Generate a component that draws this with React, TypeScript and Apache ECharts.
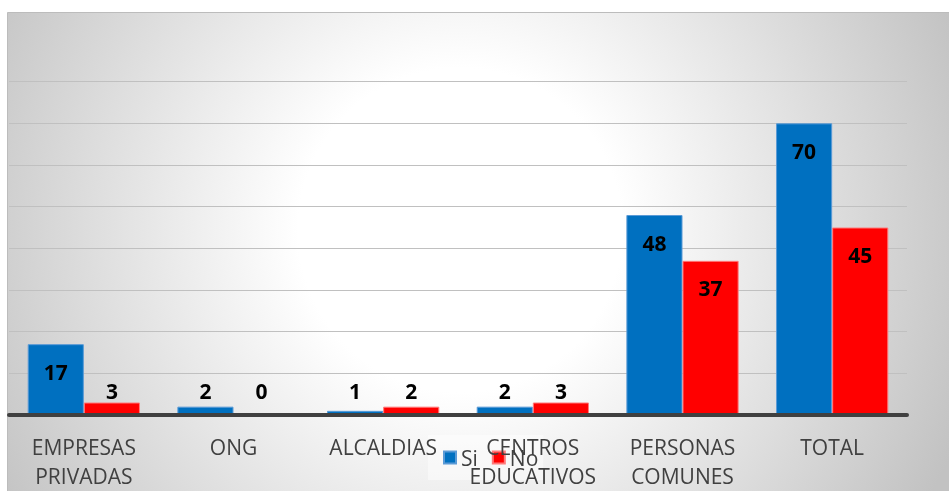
import React, { useEffect, useRef } from "react";
import * as echarts from "echarts";

const categories = [
  "EMPRESAS\nPRIVADAS",
  "ONG",
  "ALCALDIAS",
  "CENTROS\nEDUCATIVOS",
  "PERSONAS\nCOMUNES",
  "TOTAL",
];
const siValues = [17, 2, 1, 2, 48, 70];
const noValues = [3, 0, 2, 3, 37, 45];
const seriesNames = ["Si", "No"];

const FONT = "'Open Sans', 'Noto Sans', sans-serif";

function toData(values: number[]) {
  return values.map((v) => ({
    value: v,
    label:
      v < 8
        ? { position: "insideBottom", distance: 14 }
        : { position: "insideTop", distance: 17 },
  }));
}

export default function App() {
  const ref = useRef<HTMLDivElement>(null);
  useEffect(() => {
    if (!ref.current) return;
    const chart = echarts.init(ref.current, undefined, { renderer: "svg" });
    const labelCommon = {
      show: true,
      color: "#000000",
      fontFamily: FONT,
      fontWeight: "bold",
      fontSize: 21,
    };
    chart.setOption({
      animation: false,
      graphic: [
        {
          type: "rect",
          z: -100,
          shape: { x: 7.5, y: 12.5, width: 950, height: 480 },
          style: {
            fill: new echarts.graphic.RadialGradient(
              460,
              230,
              540,
              [
                { offset: 0, color: "#ffffff" },
                { offset: 0.3, color: "#ffffff" },
                { offset: 1, color: "#c2c2c2" },
              ],
              true
            ),
            stroke: "#bcbcbc",
            lineWidth: 1,
          },
        },
      ],
      grid: { left: 9, right: 42, top: 40, bottom: 76, containLabel: false },
      legend: {
        data: seriesNames,
        left: 428,
        top: 435,
        padding: [12, 5, 12, 15],
        itemWidth: 12,
        itemHeight: 12,
        itemGap: 14,
        icon: "rect",
        backgroundColor: "rgba(255,255,255,0.45)",
        textStyle: {
          fontFamily: FONT,
          fontSize: 21,
          lineHeight: 21,
          color: "#404040",
        },
      },
      xAxis: {
        type: "category",
        data: categories,
        z: 5,
        axisLine: { lineStyle: { color: "#404040", width: 4 } },
        axisTick: { show: false },
        axisLabel: {
          interval: 0,
          margin: 17,
          fontFamily: FONT,
          fontSize: 21,
          lineHeight: 29,
          color: "#404040",
        },
      },
      yAxis: {
        type: "value",
        min: 0,
        max: 90,
        interval: 10,
        axisLabel: { show: false },
        axisLine: { show: false },
        axisTick: { show: false },
        splitLine: {
          show: true,
          showMinLine: false,
          showMaxLine: false,
          lineStyle: { color: "#c0c0c0", width: 1 },
        },
      },
      series: [
        {
          name: seriesNames[0],
          type: "bar",
          data: toData(siValues),
          barGap: "0%",
          barCategoryGap: "25%",
          itemStyle: { color: "#0070C0", borderColor: "#5a9ad6", borderWidth: 1 },
          label: labelCommon,
        },
        {
          name: seriesNames[1],
          type: "bar",
          data: toData(noValues),
          barGap: "0%",
          barCategoryGap: "25%",
          itemStyle: { color: "#FF0000", borderColor: "#ff7a7a", borderWidth: 1 },
          label: labelCommon,
        },
      ],
    });
    return () => chart.dispose();
  }, []);
  return (
    <div
      ref={ref}
      style={{ position: "fixed", left: 0, top: 0, width: 949, height: 491 }}
    />
  );
}
